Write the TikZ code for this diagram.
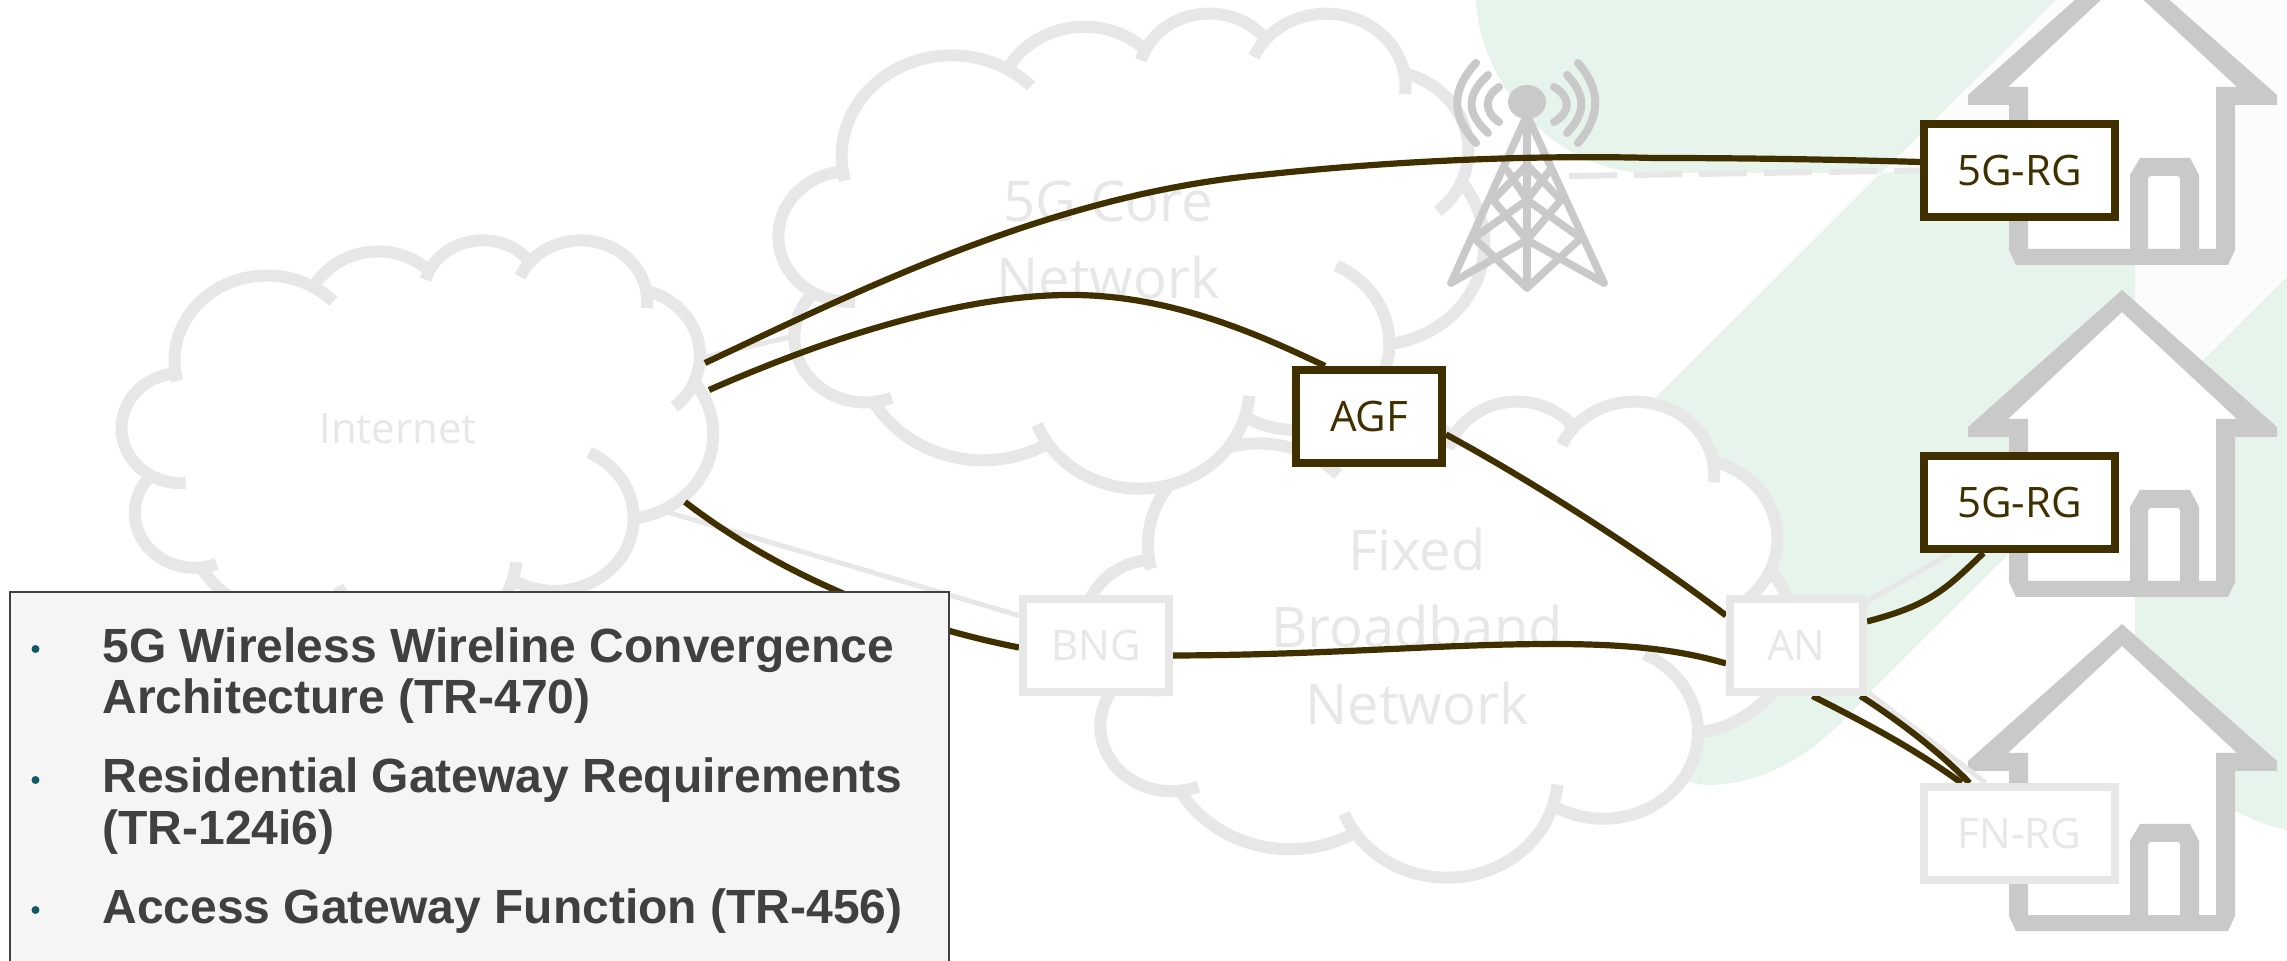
\documentclass[tikz,border=0pt]{standalone}
\usepackage{fontspec}
\setmainfont{Open Sans}
\newfontfamily\boxfont{Liberation Sans}
\definecolor{brownln}{HTML}{403000}
\definecolor{lightln}{HTML}{E7E7E7}
\definecolor{houseln}{HTML}{C9C9C9}
\definecolor{greenbg}{HTML}{E7F4EB}
\definecolor{offbg}{HTML}{FCFCFC}
\definecolor{boxbg}{HTML}{F5F5F5}
\definecolor{boxtxt}{HTML}{404040}
\definecolor{bullet}{HTML}{0F5A64}
\pgfdeclarelayer{bg}\pgfdeclarelayer{conn}\pgfdeclarelayer{front}
\pgfsetlayers{bg,conn,main,front}
\newcommand\carccalc[4]{%
\pgfmathsetmacro\cta{atan2(#1*sin(#3),#2*cos(#3))}%
\pgfmathsetmacro\ctb{atan2(#1*sin(#3+#4),#2*cos(#3+#4))}%
\pgfmathsetmacro\cdl{\ctb-\cta}%
\pgfmathsetmacro\cdl{#4>0 ? (\cdl<0 ? \cdl+360 : \cdl) : (\cdl>0 ? \cdl-360 : \cdl)}%
\xdef\cgta{\cta}\xdef\cgdl{\cdl}}
\newcommand\carc[4]{\pgfextra{\carccalc{#1}{#2}{#3}{#4}} arc[start angle=\cgta,delta angle=\cgdl,x radius=#1pt,y radius=#2pt]}
\newcommand\cloudshape[4]{%
\pgfmathsetmacro\csx{#3*0.5/432}\pgfmathsetmacro\csy{#4*0.5/432}%
\begin{scope}[shift={(#1,#2)},x=1pt,y=1pt,xscale=\csx,yscale=-\csy]
\filldraw[cloudln,fill=white] (39.00,143.70) coordinate (p0)
 \carc{67.53}{91.90}{-190.4875}{123.7805} coordinate (p1)
 \carc{53.33}{72.67}{-144.1024}{89.9452} coordinate (p2)
 \carc{43.65}{59.45}{-145.8079}{99.7230} coordinate (p3)
 \carc{48.57}{65.95}{-130.9861}{117.2417} coordinate (p4)
 \carc{53.33}{72.73}{-78.7089}{109.0269} coordinate (p5)
 \carc{67.75}{92.20}{-46.2673}{130.2690} coordinate (p6)
 \carc{57.85}{78.67}{0.6250}{114.0333} coordinate (p7)
 \carc{67.52}{92.15}{22.4516}{115.1726} coordinate (p8)
 \carc{77.20}{105.43}{66.2426}{75.7110} coordinate (p9)
 \carc{43.60}{59.18}{-274.9421}{146.7356} coordinate (p10)
 \carc{43.45}{59.45}{-246.8285}{152.5189} -- cycle;
\draw[cloudln] (p0) \carc{67.53}{91.90}{-190.4875}{-8};
\draw[cloudln] (p1) \carc{67.53}{91.90}{-66.707}{14};
\draw[cloudln] (p2) \carc{43.65}{59.45}{-145.8079}{-12};
\draw[cloudln] (p3) \carc{48.57}{65.95}{-130.9861}{-18};
\draw[cloudln] (p4) \carc{48.57}{65.95}{-13.7444}{22.23};
\draw[cloudln] (p5) \carc{53.33}{72.73}{30.318}{27.75};
\draw[cloudln] (p6) \carc{57.85}{78.67}{0.625}{-70.92};
\draw[cloudln] (p7) \carc{67.52}{92.15}{22.4516}{-16};
\draw[cloudln] (p8) \carc{67.52}{92.15}{137.6242}{14.08};
\draw[cloudln] (p9) \carc{43.60}{59.18}{-274.9421}{-11.45};
\draw[cloudln] (p10) \carc{43.45}{59.45}{-246.8285}{-26.43};
\end{scope}}
\newcommand\houseshape[1]{%
\begin{scope}[yshift=-#1*0.5pt]
\fill[white] (2122,-20) -- (2237,87) -- (2216,87) -- (2216,249) -- (2028,249) -- (2028,87) -- (2008,87) -- cycle;
\fill[houseln,even odd rule] (2122,-42) -- (2277,95) -- (2277,105) -- (2235,105) -- (2235,250) -- (2228,265) -- (2016,265) -- (2009,250) -- (2009,105) -- (1968,105) -- (1968,95) -- cycle
 (2122,-20) -- (2237,87) -- (2216,87) -- (2216,249) -- (2028,249) -- (2028,87) -- (2008,87) -- cycle;
\fill[houseln] (2130,249) -- (2130,175) -- (2140,158) -- (2190,158) -- (2199,175) -- (2199,249) -- (2180,249) -- (2180,178) -- (2178,176) -- (2150,176) -- (2148,178) -- (2148,249) -- cycle;
\end{scope}}
\tikzset{
 cloudln/.style={draw=lightln,line width=6pt},
 rgbox/.style={draw=brownln,line width=4pt,fill=white,text=brownln,inner sep=0pt,font=\fontsize{21}{25}\selectfont,minimum height=46.5pt},
 lightbox/.style={draw=lightln,line width=4pt,fill=white,text=lightln,inner sep=0pt,font=\fontsize{21}{25}\selectfont,minimum height=46.5pt},
 cloudtxt/.style={text=lightln,align=center,inner sep=0pt,font=\fontsize{28}{38.5}\selectfont},
 inettxt/.style={text=lightln,inner sep=0pt,font=\fontsize{21}{25}\selectfont},
 conn/.style={draw=brownln,line width=3.1pt},
 lconn/.style={draw=lightln,line width=2.5pt},
 tower/.style={draw=houseln,line width=3.8pt,line cap=round,line join=round},
 waves/.style={draw=houseln,line width=4pt,line cap=round},
 boxline/.style={anchor=base west,inner sep=0pt,text=boxtxt,font=\boxfont\bfseries\fontsize{24}{26}\selectfont},
 dot/.style={circle,fill=bullet,inner sep=0pt,minimum size=4pt}
}
\begin{document}
\begin{tikzpicture}[x=0.5pt,y=-0.5pt]
\useasboundingbox (0,0) rectangle (2287,961);
\begin{pgfonlayer}{bg}
\begin{scope}
\clip (0,0) rectangle (2287,961);
\fill[offbg] (2056,0) -- (2287,0) -- (2287,277) -- (2135,428) -- (2135,173) -- (1881,173) -- cycle;
\fill[greenbg] (1476,0) .. controls (1478,70) and (1540,165) .. (1640,173) -- (1881,173) -- (2056,0) -- cycle;
\fill[greenbg] (1881,173) -- (2135,173) -- (2135,428) -- (1869,693) .. controls (1820,750) and (1770,785) .. (1705,785) -- (1620,770) -- (1600,453) -- cycle;
\fill[greenbg] (2135,428) -- (2287,277) -- (2287,830) .. controls (2260,825) and (2225,810) .. (2135,750) -- cycle;
\houseshape{0}
\houseshape{332}
\houseshape{666}
\cloudshape{122}{239}{591}{400}
\cloudshape{1085}{400}{708}{476}
\cloudshape{779}{12}{705}{475}
\node[inettxt] (inetT) at (398,429) {Internet};
\node[cloudtxt] (coreT) at (1108,240) {5G Core\\Network};
\node[cloudtxt] (fixedT) at (1417,627) {Fixed\\Broadband\\Network};
% tower
\draw[waves] (1476,63) .. controls (1451,90) and (1451,116) .. (1476,143);
\draw[waves] (1488,75) .. controls (1466,95) and (1466,113) .. (1488,133);
\draw[waves] (1499,87) .. controls (1484,97) and (1484,112) .. (1499,122);
\draw[waves] (1578,63) .. controls (1601,90) and (1601,116) .. (1578,143);
\draw[waves] (1567,75) .. controls (1586,95) and (1586,113) .. (1567,133);
\draw[waves] (1554,87) .. controls (1571,97) and (1571,112) .. (1554,122);
\fill[houseln] (1527,102) ellipse [x radius=9.5pt,y radius=8.5pt];
\draw[tower] (1527,115) -- (1451,283) (1527,115) -- (1604,283) (1527,115) -- (1527,288);
\draw[tower] (1474,238) -- (1527,288) -- (1581,238);
\draw[tower] (1451,283) -- (1527,240) -- (1604,283);
\draw[tower] (1493,200) -- (1527,240) -- (1561,200);
\draw[tower] (1474,238) -- (1527,200) -- (1581,238);
\draw[tower] (1507,170) -- (1527,200) -- (1550,170);
\draw[tower] (1493,200) -- (1527,165) -- (1561,200);
\end{scope}
\end{pgfonlayer}
\node[rgbox,minimum width=95.5pt] (rg1) at (2019.5,170.5) {5G-RG};
\node[rgbox,minimum width=95.5pt] (rg2) at (2019.5,502.5) {5G-RG};
\node[lightbox,minimum width=95.5pt] (fn) at (2019.5,833.5) {FN-RG};
\node[rgbox,minimum width=73pt] (agf) at (1369,416.5) {AGF};
\node[lightbox,minimum width=73pt] (bng) at (1096,645.5) {BNG};
\node[lightbox,minimum width=66.5pt] (an) at (1796.5,645.5) {AN};
\coordinate (inetA) at (705,363);
\coordinate (inetB) at (709,390);
\coordinate (inetC) at (685,502);
\coordinate (inetD) at (705,357);
\coordinate (inetE) at (667,512);
\coordinate (coreL) at (790,337);
\coordinate (towerR) at (1569,176);
\begin{pgfonlayer}{conn}
\draw[lconn] (inetD) -- (coreL);
\draw[lconn] (inetE) -- ([yshift=15pt]bng.west);
\draw[lconn] ([yshift=22pt]an.east) -- ([xshift=-34pt]rg2.south);
\draw[lconn] (1869,693) -- ([xshift=-17pt]fn.north);
\draw[draw=lightln,line width=3pt,dash pattern=on 24pt off 8.5pt] (towerR) -- ([yshift=0pt]rg1.west);
\draw[conn] (inetA) .. controls (860,290) and (1050,195) .. (1261,175) .. controls (1400,160) and (1540,155) .. (1654,158) .. controls (1760,158) and (1850,160) .. ([yshift=4.25pt]rg1.west);
\draw[conn] (inetB) .. controls (800,350) and (950,293) .. (1078,295) .. controls (1170,297) and (1250,330) .. ([xshift=-22pt]agf.north);
\draw[conn] ([yshift=-9pt]agf.east) .. controls (1530,480) and (1640,550) .. ([yshift=15pt]an.west);
\draw[conn] (inetC) .. controls (800,590) and (930,630) .. ([yshift=-1pt]bng.west);
\draw[conn] ([yshift=-5pt]bng.east) .. controls (1330,655) and (1440,644) .. (1552,644) .. controls (1630,644) and (1680,650) .. ([yshift=-9pt]an.west);
\draw[conn] ([yshift=12pt]an.east) .. controls (1930,605) and (1945,590) .. ([xshift=-18pt]rg2.south);
\draw[conn] ([xshift=8pt]an.south) .. controls (1855,718) and (1908,744) .. ([xshift=-29pt]fn.north);
\draw[conn] ([xshift=32pt]an.south) .. controls (1890,715) and (1935,747) .. ([xshift=-25pt]fn.north);
\end{pgfonlayer}
\begin{pgfonlayer}{front}
\begin{scope}
\clip (0,0) rectangle (2287,961);
\fill[boxbg,draw=boxtxt,line width=1.4pt] (10,592) rectangle (949,990);
\end{scope}
\node[boxline] (l1) at (102,663) {5G Wireless Wireline Convergence};
\node[boxline] (l2) at (102,714) {Architecture (TR-470)};
\node[boxline] (l3) at (102,793) {Residential Gateway Requirements};
\node[boxline] (l4) at (102,845) {(TR-124i6)};
\node[boxline] (l5) at (102,923) {Access Gateway Function (TR-456)};
\node[dot] (b1) at (35.5,649) {};
\node[dot] (b2) at (35.5,780) {};
\node[dot] (b3) at (35.5,910) {};
\end{pgfonlayer}
\end{tikzpicture}
\end{document}
